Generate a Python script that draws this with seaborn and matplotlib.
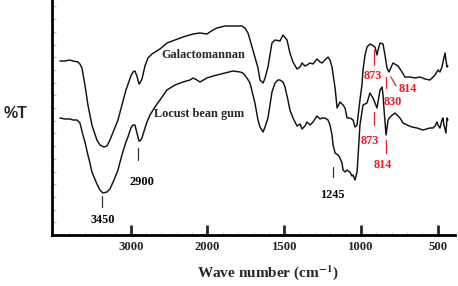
import numpy as np
import pandas as pd
import matplotlib
matplotlib.use("Agg")
import matplotlib.pyplot as plt
from matplotlib.ticker import MultipleLocator, FixedLocator
import seaborn as sns

# FTIR spectra (wavenumber cm-1, transmittance in arbitrary units)
gal_wn = [3922, 3857, 3792, 3752, 3687, 3661, 3635, 3596, 3557, 3531, 3505, 3440, 3401, 3349,
          3309, 3270, 3218, 3166, 3114, 3062, 2997, 2971, 2945, 2919, 2892, 2879, 2853, 2814,
          2775, 2723, 2619, 2528, 2423, 2319, 2189, 2098, 2007, 1964, 1938, 1886, 1834, 1775,
          1756, 1736, 1704, 1671, 1658, 1638, 1625, 1606, 1580, 1560, 1528, 1508, 1482, 1463,
          1443, 1417, 1397, 1384, 1365, 1352, 1332, 1313, 1287, 1267, 1254, 1235, 1215, 1202,
          1189, 1169, 1156, 1137, 1117, 1104, 1091, 1072, 1052, 1039, 1026, 1020, 1007, 994,
          987, 974, 961, 942, 929, 909, 896, 889, 876, 857, 844, 831, 818, 792, 759, 733, 714,
          681, 649, 616, 583, 551, 531, 518, 499, 486, 473, 466, 453, 447, 440, 434]
gal_t = [174, 174, 175, 174, 173, 171, 167, 150, 130, 120, 110, 95, 90, 88,
         89, 95, 105, 115, 130, 145, 159, 163, 164, 159, 151, 152, 156, 169,
         177, 181, 186, 192, 195, 198, 201, 202, 201, 205, 207, 209, 209, 209,
         207, 202, 185, 167, 155, 152, 157, 168, 192, 195, 194, 200, 195, 182,
         173, 166, 168, 172, 169, 170, 172, 171, 176, 173, 172, 175, 178, 175,
         168, 147, 127, 133, 130, 127, 117, 117, 115, 108, 110, 118, 135, 150,
         165, 180, 188, 191, 190, 188, 180, 185, 192, 191, 180, 167, 163, 172, 169, 163, 158,
         158, 157, 158, 156, 155, 158, 160, 165, 163, 168, 173, 182, 175, 168, 169]

lbg_wn = [3922, 3857, 3792, 3752, 3700, 3661, 3622, 3596, 3557, 3531, 3505, 3440, 3401, 3362,
          3309, 3270, 3218, 3166, 3114, 3062, 3036, 2997, 2971, 2945, 2919, 2892, 2879, 2853,
          2814, 2788, 2749, 2684, 2619, 2528, 2423, 2319, 2228, 2189, 2137, 2098, 2007, 1964,
          1938, 1886, 1834, 1788, 1769, 1743, 1723, 1704, 1691, 1671, 1658, 1638, 1625, 1606,
          1593, 1580, 1560, 1541, 1528, 1508, 1495, 1476, 1463, 1443, 1417, 1397, 1384, 1365,
          1352, 1332, 1313, 1287, 1267, 1254, 1235, 1215, 1202, 1189, 1182, 1169, 1150, 1137,
          1124, 1117, 1104, 1091, 1085, 1072, 1059, 1052, 1039, 1026, 1020, 1007, 994, 987,
          961, 942, 922, 909, 896, 876, 863, 857, 850, 837, 824, 811, 779, 746, 727, 701, 668,
          636, 596, 551, 531, 518, 505, 499, 486, 473, 466, 460, 447, 440, 434]
lbg_t = [117, 116, 116, 115, 115, 112, 100, 93, 80, 72, 63, 51, 45, 42,
         43, 46, 55, 65, 80, 93, 98, 107, 110, 110, 102, 94, 94, 97,
         107, 113, 120, 128, 135, 145, 150, 153, 155, 157, 155, 153, 157, 159,
         160, 162, 164, 163, 162, 157, 152, 140, 132, 115, 108, 103, 108, 117,
         130, 143, 152, 155, 155, 153, 148, 135, 125, 117, 109, 111, 106, 109,
         113, 110, 113, 119, 116, 117, 117, 115, 110, 100, 90, 82, 80, 77,
         72, 65, 63, 65, 64, 63, 59, 60, 55, 63, 77, 110, 123, 130,
         132, 142, 137, 132, 127, 145, 148, 140, 125, 100, 115, 118, 122, 117, 112, 110, 108,
         107, 105, 107, 107, 109, 113, 110, 107, 115, 117, 110, 102, 117, 115]

# peak markers: tick from (x0, y0) to (x1, y1), label at (tx, ty)
ann_text = ["3450", "2900", "1245", "873", "814", "830", "873", "814"]
ann_x0 = [3375, 2906, 1182, 916, 805, 837, 916, 837]
ann_x1 = [3375, 2906, 1182, 916, 772, 837, 916, 837]
ann_y0 = [39, 87, 68, 185, 158, 158, 123, 95]
ann_y1 = [28, 75, 58, 170, 149, 147, 110, 82]
ann_tx = [3360, 2853, 1189, 922, 694, 792, 942, 857]
ann_ty = [15, 53, 40, 159, 146, 133, 94, 70]
ann_red = [False, False, False, True, True, True, True, True]

xticks = [3000, 2000, 1500, 1000, 500]

sns.set_style("white")
plt.rcParams["mathtext.fontset"] = "stix"

df_gal = pd.DataFrame({"wn": gal_wn, "T": gal_t})
df_lbg = pd.DataFrame({"wn": lbg_wn, "T": lbg_t})


def fwd(w):
    w = np.asarray(w, dtype=float)
    return np.where(w >= 2000, (w - 2000) / 1000.0, (w - 2000) / 500.0)


def inv(p):
    p = np.asarray(p, dtype=float)
    return np.where(p >= 0, 2000 + 1000.0 * p, 2000 + 500.0 * p)


fig = plt.figure(figsize=(4.58, 2.86), dpi=100)
ax = fig.add_axes([52 / 458, 51 / 286, 403 / 458, 235 / 286])
ax.set_xscale("function", functions=(fwd, inv))

sns.lineplot(data=df_gal, x="wn", y="T", ax=ax, sort=False, estimator=None,
             color="#111111", lw=1.05)
sns.lineplot(data=df_lbg, x="wn", y="T", ax=ax, sort=False, estimator=None,
             color="#111111", lw=1.05)

ax.set_xlim(4025, 388)
ax.set_ylim(0, 235)

serif = dict(family="Liberation Serif", fontweight="bold")
red = "#ee1c24"
for i in range(len(ann_text)):
    c = red if ann_red[i] else "#333333"
    ax.plot([ann_x0[i], ann_x1[i]], [ann_y0[i], ann_y1[i]], color=c, lw=0.9)
    ax.text(ann_tx[i], ann_ty[i], ann_text[i], color=red if ann_red[i] else "black",
            ha="center", va="center", fontsize=8.8, **serif)

ax.text(2060, 180, "Galactomannan", ha="center", va="center", fontsize=8.8, **serif)
ax.text(2105, 121, "Locust bean gum", ha="center", va="center", fontsize=8.8, **serif)

for s in ["top", "right"]:
    ax.spines[s].set_visible(False)
for s in ["left", "bottom"]:
    ax.spines[s].set_linewidth(2)
    ax.spines[s].set_color("black")

ax.xaxis.set_major_locator(FixedLocator(xticks))
ax.xaxis.set_minor_locator(FixedLocator(list(range(3800, 2000, -200)) + list(range(1900, 400, -100))))
ax.set_xticklabels([str(t) for t in xticks])
ax.tick_params(axis="x", which="major", direction="in", length=7, width=2, pad=4,
               labelsize=9.2, bottom=True)
ax.tick_params(axis="x", which="minor", direction="in", length=3, width=0.8,
               color="#dddddd", bottom=True)
for lab in ax.get_xticklabels():
    lab.set_family("Liberation Serif")
    lab.set_fontweight("bold")

ax.yaxis.set_major_locator(MultipleLocator(12.7))
ax.set_yticklabels([])
ax.tick_params(axis="y", which="major", direction="in", length=3, width=0.8,
               color="#bbbbbb", left=True)

ax.set_xlabel("")
ax.set_ylabel("")
fig.text(268 / 458, 1 - 273 / 286, r"Wave number (cm$^{\mathbf{-1}}$)", ha="center",
         va="center", fontsize=11, **serif)
fig.text(16 / 458, 1 - 113 / 286, "%T", ha="center", va="center", fontsize=11.5,
         family="Liberation Sans", fontweight="bold")

fig.savefig("out.png", dpi=100)
